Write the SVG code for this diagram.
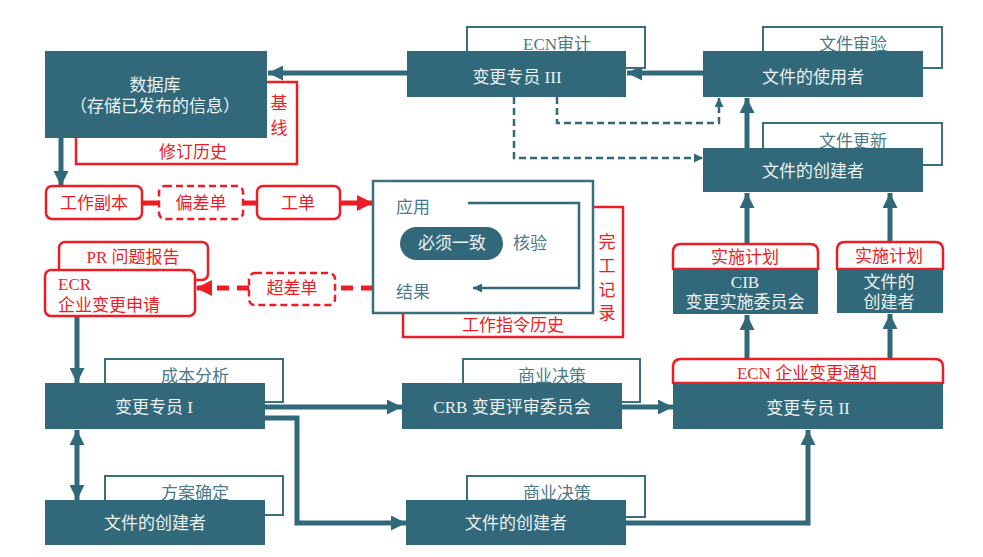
<svg xmlns="http://www.w3.org/2000/svg" width="983" height="557" viewBox="0 0 983 557">
<defs>
<style>
text{font-family:"Liberation Serif","Noto Sans CJK SC",serif;font-size:17px;}
.node{fill:#32697a;}
.nt{fill:#eef2f3;text-anchor:middle;}
.loop{fill:#fff;stroke:#3a6f7e;stroke-width:2;}
.lt{fill:#4a7a87;text-anchor:middle;}
.rbox{fill:#fff;stroke:#ee1c25;stroke-width:2.5;}
.rt{fill:#ee1c25;text-anchor:middle;}
.tt{fill:#4a7a87;text-anchor:middle;}
.c{fill:none;stroke:#32697a;stroke-width:5;}
.cr{fill:none;stroke:#ee1c25;stroke-width:5;}
.dash{fill:none;stroke:#32697a;stroke-width:2.5;stroke-dasharray:7,4;}
.thin{fill:none;stroke:#32697a;stroke-width:2.5;}
</style>
<marker id="a" markerUnits="userSpaceOnUse" markerWidth="15" markerHeight="15" refX="15" refY="7.5" orient="auto-start-reverse"><path d="M0,0 L15,7.5 L0,15 z" fill="#32697a"/></marker>
<marker id="ar" markerUnits="userSpaceOnUse" markerWidth="16" markerHeight="16" refX="16" refY="8" orient="auto"><path d="M0,0 L16,8 L0,16 z" fill="#ee1c25"/></marker>
<marker id="as" markerUnits="userSpaceOnUse" markerWidth="9" markerHeight="9" refX="9" refY="4.5" orient="auto"><path d="M0,0 L9,4.5 L0,9 z" fill="#32697a"/></marker>
</defs>
<rect width="983" height="557" fill="#fff"/>

<g id="connectors">
<line class="c" x1="407" y1="73" x2="268" y2="73" marker-end="url(#a)"/>
<line class="c" x1="703" y1="73" x2="627" y2="73" marker-end="url(#a)"/>
<line class="c" x1="61" y1="138" x2="61" y2="186" marker-end="url(#a)"/>
<line class="cr" x1="142" y1="203" x2="159" y2="203"/>
<line class="cr" x1="243" y1="203" x2="257" y2="203"/>
<line class="cr" x1="340" y1="203" x2="373" y2="203" marker-end="url(#ar)"/>
<line class="cr" x1="373" y1="288" x2="335" y2="288" stroke-dasharray="12,8"/>
<line class="cr" x1="249" y1="288" x2="196" y2="288" stroke-dasharray="12,8" marker-end="url(#ar)"/>
<line class="c" x1="77" y1="316" x2="77" y2="383" marker-end="url(#a)"/>
<line class="c" x1="77" y1="430" x2="77" y2="500" marker-start="url(#a)" marker-end="url(#a)"/>
<line class="c" x1="265" y1="407" x2="402" y2="407" marker-end="url(#a)"/>
<path class="c" d="M265,418 H297 V523 H406" marker-end="url(#a)"/>
<line class="c" x1="622" y1="407" x2="673" y2="407" marker-end="url(#a)"/>
<path class="c" d="M626,523 H808 V430" marker-end="url(#a)"/>
<line class="c" x1="747" y1="359" x2="747" y2="315" marker-end="url(#a)"/>
<line class="c" x1="890" y1="359" x2="890" y2="314" marker-end="url(#a)"/>
<line class="c" x1="747" y1="244" x2="747" y2="193" marker-end="url(#a)"/>
<line class="c" x1="890" y1="242" x2="890" y2="193" marker-end="url(#a)"/>
<line class="c" x1="747" y1="148" x2="747" y2="98" marker-end="url(#a)"/>
<path class="dash" d="M514,97 V158 H703" marker-end="url(#as)"/>
<path class="dash" d="M557,97 V123 H719 V98" marker-end="url(#as)"/>
</g>

<g id="db">
<rect class="rbox" x="76" y="82" width="221" height="82"/>
<text class="rt" x="279" y="109">基</text>
<text class="rt" x="279" y="134">线</text>
<text class="rt" x="193" y="158">修订历史</text>
<rect class="node" x="45" y="51" width="222" height="87"/>
<text class="nt" x="155" y="91">数据库</text>
<text class="nt" x="155" y="112">（存储已发布的信息）</text>
</g>

<g id="cs3">
<rect class="loop" x="467" y="27" width="178" height="41"/>
<text class="lt" x="557" y="50">ECN审计</text>
<rect class="node" x="407" y="51" width="219" height="46"/>
<text class="nt" x="517" y="83">变更专员 III</text>
</g>

<g id="user">
<rect class="loop" x="763" y="27" width="179" height="41"/>
<text class="lt" x="853" y="50">文件审验</text>
<rect class="node" x="703" y="51" width="220" height="46"/>
<text class="nt" x="813" y="83">文件的使用者</text>
</g>

<g id="creator-top">
<rect class="loop" x="763" y="123" width="179" height="42"/>
<text class="lt" x="853" y="147">文件更新</text>
<rect class="node" x="703" y="148" width="220" height="44"/>
<text class="nt" x="813" y="177">文件的创建者</text>
</g>

<g id="workcopy">
<rect class="rbox" x="46" y="186" width="96" height="33" rx="6"/>
<text class="rt" x="94" y="209">工作副本</text>
</g>
<g id="deviation">
<rect class="rbox" x="159" y="186" width="84" height="33" rx="6" stroke-dasharray="7,4"/>
<text class="rt" x="201" y="209">偏差单</text>
</g>
<g id="workorder">
<rect class="rbox" x="257" y="186" width="83" height="33" rx="6"/>
<text class="rt" x="298" y="209">工单</text>
</g>

<g id="apply">
<rect class="rbox" x="403" y="207" width="220" height="130"/>
<text class="rt" x="607" y="248">完</text>
<text class="rt" x="607" y="272">工</text>
<text class="rt" x="607" y="296">记</text>
<text class="rt" x="607" y="319">录</text>
<text class="rt" x="513" y="331">工作指令历史</text>
<rect x="373" y="181" width="220" height="132" fill="#fff" stroke="#3a6f7e" stroke-width="2.5"/>
<text class="tt" x="413" y="213">应用</text>
<text class="tt" x="413" y="298">结果</text>
<rect class="node" x="400" y="227" width="103" height="33" rx="16.5"/>
<text class="nt" x="452" y="249">必须一致</text>
<text class="tt" x="530" y="249">核验</text>
<path class="thin" d="M468,203 H579 V288 H473" marker-end="url(#as)"/>
</g>

<g id="ecr">
<rect class="rbox" x="59" y="242" width="149" height="38" rx="6"/>
<text class="rt" x="133" y="263">PR 问题报告</text>
<rect class="rbox" x="45" y="270" width="150" height="46" rx="6"/>
<text class="rt" x="58" y="290" style="text-anchor:start">ECR</text>
<text class="rt" x="58" y="311" style="text-anchor:start">企业变更申请</text>
</g>

<g id="overdev">
<rect class="rbox" x="249" y="273" width="86" height="32" rx="6" stroke-dasharray="7,4"/>
<text class="rt" x="292" y="294">超差单</text>
</g>

<g id="cib">
<path d="M673,269 V252 Q673,244 681,244 H810 Q818,244 818,252 V269 Z" fill="#fff" stroke="#ee1c25" stroke-width="2.5"/>
<text class="rt" x="745" y="263">实施计划</text>
<rect class="node" x="673" y="269" width="145" height="45"/>
<text class="nt" x="745" y="288">CIB</text>
<text class="nt" x="745" y="308">变更实施委员会</text>
</g>

<g id="creator-plan">
<path d="M837,269 V250 Q837,242 845,242 H935 Q943,242 943,250 V269 Z" fill="#fff" stroke="#ee1c25" stroke-width="2.5"/>
<text class="rt" x="889" y="262">实施计划</text>
<rect class="node" x="837" y="269" width="106" height="44"/>
<text class="nt" x="889" y="288">文件的</text>
<text class="nt" x="889" y="308">创建者</text>
</g>

<g id="cs1">
<rect class="loop" x="105" y="359" width="178" height="43"/>
<text class="lt" x="195" y="382">成本分析</text>
<rect class="node" x="45" y="383" width="220" height="46"/>
<text class="nt" x="154" y="413">变更专员 I</text>
</g>

<g id="crb">
<rect class="loop" x="463" y="359" width="177" height="43"/>
<text class="lt" x="552" y="382">商业决策</text>
<rect class="node" x="402" y="383" width="220" height="46"/>
<text class="nt" x="512" y="413">CRB 变更评审委员会</text>
</g>

<g id="cs2">
<path d="M673,383 V367 Q673,359 681,359 H935 Q943,359 943,367 V383 Z" fill="#fff" stroke="#ee1c25" stroke-width="2.5"/>
<text class="rt" x="807" y="379">ECN 企业变更通知</text>
<rect class="node" x="673" y="383" width="270" height="46"/>
<text class="nt" x="808" y="414">变更专员 II</text>
</g>

<g id="creator-bl">
<rect class="loop" x="105" y="476" width="178" height="39"/>
<text class="lt" x="195" y="499">方案确定</text>
<rect class="node" x="45" y="500" width="220" height="45"/>
<text class="nt" x="155" y="529">文件的创建者</text>
</g>

<g id="creator-bm">
<rect class="loop" x="467" y="476" width="178" height="41"/>
<text class="lt" x="557" y="499">商业决策</text>
<rect class="node" x="406" y="500" width="220" height="45"/>
<text class="nt" x="516" y="529">文件的创建者</text>
</g>
</svg>
